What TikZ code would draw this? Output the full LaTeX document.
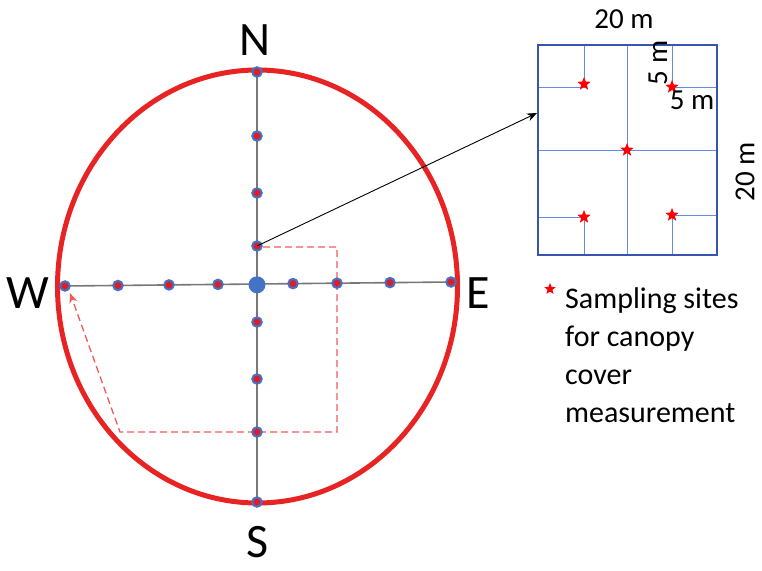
\documentclass[tikz,border=0pt]{standalone}
\usepackage{fontspec}
\setmainfont{Carlito}
\usetikzlibrary{shapes.geometric,arrows.meta}
\definecolor{dotblue}{RGB}{68,114,196}
\definecolor{dotred}{RGB}{220,30,40}
\definecolor{ringred}{RGB}{232,35,35}
\definecolor{axisgray}{RGB}{120,120,120}
\definecolor{boxblue}{RGB}{55,85,175}
\definecolor{gridblue}{RGB}{100,140,220}
\definecolor{dashred}{RGB}{240,90,90}
\tikzset{
  site/.style={circle, fill=dotred, draw=dotblue, line width=2pt, inner sep=0pt, minimum size=9.5pt},
  hub/.style={circle, fill=dotblue, inner sep=0pt, minimum size=17pt},
  pstar/.style={star, star points=5, star point ratio=2.3, fill=red, inner sep=0pt, minimum size=14pt},
  compass/.style={font=\fontsize{48}{48}\selectfont, inner sep=0pt},
  lbl/.style={font=\fontsize{29}{29}\selectfont, inner sep=0pt},
  axis/.style={draw=axisgray, line width=1.6pt},
  grid/.style={draw=gridblue, line width=1pt},
  trail/.style={draw=dashred, line width=1.3pt, dash pattern=on 7pt off 4pt}
}
\begin{document}
\begin{tikzpicture}[x=1pt,y=-1pt]
\useasboundingbox (0,0) rectangle (762,570);
% ring
\node[draw=ringred, line width=5pt, ellipse, minimum width=400pt, minimum height=433pt, inner sep=0pt] (ring) at (257.5,286.5) {};
% coordinates
\coordinate (pn) at (257,72);
\coordinate (ps) at (257,502);
\coordinate (pw) at (65,286);
\coordinate (pe) at (451,282);
\draw[axis] (pn) -- (ps);
\draw[axis] (pw) -- (pe);
% dashed trail
\coordinate (t0) at (263,247);
\coordinate (t1) at (337,247);
\coordinate (t2) at (337,432);
\coordinate (t3) at (120,432);
\coordinate (t4) at (70,293);
\draw[trail, -{Stealth[length=10pt,width=8pt]}] (t0) -- (t1) -- (t2) -- (t3) -- (t4);
% black arrow to plot
\coordinate (plotin) at (537,113);
% sites on N-S
\node[site] (n1) at (pn) {};
\node[site] (n2) at (257,136) {};
\node[site] (n3) at (257,193) {};
\node[site] (n4) at (257,246) {};
\node[site] (s1) at (257,322) {};
\node[site] (s2) at (257,379) {};
\node[site] (s3) at (257,432) {};
\node[site] (s4) at (ps) {};
% sites on W-E
\node[site] (w1) at (pw) {};
\node[site] (w2) at (118,285.5) {};
\node[site] (w3) at (169,284.9) {};
\node[site] (w4) at (218,284.4) {};
\node[site] (e1) at (293,283.6) {};
\node[site] (e2) at (337,283.2) {};
\node[site] (e3) at (390,282.6) {};
\node[site] (e4) at (pe) {};
\node[hub] (c) at (257,284.8) {};
\draw[black, line width=0.9pt, -{Stealth[length=10pt,width=8pt]}] (n4.center) -- (plotin);
% compass letters
\node[compass] (N) at (255,40) {N};
\node[compass] (S) at (258,542) {S};
\node[compass] (W) at (28,293) {W};
\node[compass] (E) at (478,293) {E};
% plot square
\draw[grid] (627,45) -- (627,255);
\draw[grid] (538,150) -- (717,150);
\draw[grid] (584,45) -- (584,87) -- (538,87);
\draw[grid] (672,45) -- (672,87) -- (717,87);
\draw[grid] (538,217) -- (584,217) -- (584,255);
\draw[grid] (717,215) -- (672,215) -- (672,255);
\node[draw=boxblue, line width=1.8pt, minimum width=179pt, minimum height=210pt, inner sep=0pt] (plot) at (627.5,150) {};
\node[pstar] (st1) at (584,84) {};
\node[pstar] (st2) at (672,87) {};
\node[pstar] (st3) at (627,150) {};
\node[pstar] (st4) at (584,217) {};
\node[pstar] (st5) at (672,215) {};
% dimension labels
\node[lbl] (d1) at (624,19) {20 m};
\node[lbl, rotate=90] (d2) at (658,63) {5 m};
\node[lbl] (d3) at (692,100) {5 m};
\node[lbl, rotate=90] (d4) at (745,172) {20 m};
% legend
\node[pstar, minimum size=12pt] (lst) at (550,289) {};
\node[lbl, anchor=north west, align=left, font=\fontsize{30}{38}\selectfont] (leg) at (565,287) {Sampling sites\\for canopy\\cover\\measurement};
\end{tikzpicture}
\end{document}
